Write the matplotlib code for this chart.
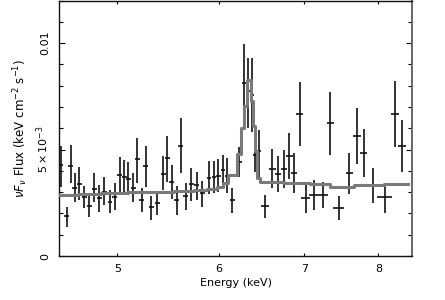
import matplotlib
matplotlib.use("Agg")
import matplotlib.pyplot as plt
from matplotlib.ticker import FixedLocator, NullLocator, MultipleLocator

# --- data: binned spectrum (flux values in units of 1e-3) ---
energy = [4.515, 4.562, 4.597, 4.631, 4.667, 4.709, 4.752, 4.794, 4.838, 4.884,
          4.932, 4.976, 5.021, 5.060, 5.100, 5.143, 5.183, 5.224, 5.261, 5.315,
          5.373, 5.431, 5.471, 5.513, 5.563, 5.603, 5.654, 5.712, 5.767, 5.826,
          5.896, 5.950, 5.996, 6.047, 6.094, 6.149, 6.227, 6.280, 6.325, 6.371,
          6.405, 6.451, 6.517, 6.608, 6.676, 6.748, 6.813, 6.871, 6.945, 7.016,
          7.122, 7.243, 7.339, 7.450, 7.594, 7.700, 7.792, 7.920, 8.093, 8.239,
          8.349]
energy_hw = [0.021] * 12 + [0.023] * 13 + [0.025] * 12 + [0.02] * 5 + \
            [0.047, 0.040, 0.040, 0.041, 0.041, 0.041, 0.042, 0.059, 0.056, 0.065,
             0.044, 0.076, 0.050, 0.051, 0.051, 0.066, 0.107, 0.059, 0.065]
flux = [4.279, 1.881, 4.232, 3.182, 3.386, 2.790, 2.351, 3.135, 2.712, 3.025,
        2.555, 2.759, 3.809, 3.730, 3.605, 3.182, 4.545, 2.633, 4.232, 2.288,
        2.508, 3.856, 4.592, 3.464, 2.633, 5.172, 2.821, 3.386, 3.339, 2.947,
        3.652, 3.730, 3.777, 4.044, 3.777, 2.633, 4.404, 8.119, 7.727, 7.571,
        4.749, 4.953, 2.351, 4.107, 3.856, 4.075, 4.702, 3.918, 6.677, 2.743,
        2.868, 2.868, 6.238, 2.273, 3.887, 5.658, 4.828, 3.307, 2.759, 6.661,
        5.188]
flux_hi = [5.188, 2.320, 5.219, 3.887, 4.169, 3.292, 2.868, 3.887, 3.339, 3.730,
           3.103, 3.417, 4.671, 4.514, 4.436, 3.887, 5.533, 3.182, 5.172, 2.821,
           3.025, 4.702, 5.643, 4.279, 3.292, 6.473, 3.417, 4.154, 3.966, 3.527,
           4.483, 4.483, 4.545, 4.749, 4.592, 3.182, 5.141, 9.969, 9.295, 9.295,
           5.846, 5.925, 2.868, 5.016, 4.702, 4.984, 5.768, 4.828, 8.150, 3.339,
           3.574, 3.495, 7.680, 2.821, 4.859, 6.944, 5.956, 4.122, 3.417, 8.197,
           6.395]
flux_lo = [3.260, 1.379, 3.417, 2.555, 2.633, 2.241, 1.818, 2.555, 2.085, 2.398,
           2.006, 2.163, 2.947, 2.947, 2.868, 2.555, 3.417, 2.085, 3.260, 1.693,
           1.928, 3.103, 3.495, 2.665, 1.928, 3.887, 2.163, 2.586, 2.633, 2.288,
           2.915, 2.978, 3.025, 3.292, 2.947, 2.006, 3.730, 6.473, 6.003, 5.846,
           3.966, 3.574, 1.771, 3.182, 3.025, 3.182, 3.605, 2.978, 5.172, 2.038,
           2.163, 2.241, 4.749, 1.693, 2.915, 4.326, 3.699, 2.476, 2.038, 5.110,
           3.966]

# --- model: step levels starting at each edge ---
model_e = [4.510, 4.653, 4.852, 5.091, 5.309, 5.536, 5.740, 5.879, 5.986, 6.051,
           6.102, 6.205, 6.242, 6.280, 6.310, 6.355, 6.378, 6.405, 6.432, 6.463,
           6.748, 7.079, 7.339, 7.653, 8.079, 8.435]
model_f = [2.884, 2.915, 2.947, 2.994, 3.025, 3.056, 3.103, 3.150, 3.229, 3.448,
           3.824, 4.796, 6.003, 7.053, 8.276, 7.257, 6.113, 4.953, 3.652, 3.495,
           3.417, 3.386, 3.260, 3.323, 3.370, 3.370]

scale = 1e-3
y = [v * scale for v in flux]
yerr = [[(v - lo) * scale for v, lo in zip(flux, flux_lo)],
        [(hi - v) * scale for v, hi in zip(flux, flux_hi)]]

fig = plt.figure(figsize=(4.45, 3.0), dpi=100)
ax = fig.add_axes([59 / 445, 44 / 300, 353 / 445, 255.5 / 300])

ax.errorbar(energy, y, xerr=energy_hw, yerr=yerr, fmt='none', ecolor='#111111',
            elinewidth=1.2, capsize=0, zorder=3)
ax.plot(model_e, [v * scale for v in model_f], drawstyle='steps-post',
        color='#7a7a7a', linewidth=2.2, zorder=4)

ax.set_xscale('log')
ax.set_xlim(4.5, 8.5)
ax.set_ylim(0, 0.012)

ax.xaxis.set_major_locator(FixedLocator([5, 6, 7, 8]))
ax.xaxis.set_minor_locator(NullLocator())
ax.set_xticklabels(['5', '6', '7', '8'])
ax.yaxis.set_major_locator(FixedLocator([0, 0.005, 0.01]))
ax.yaxis.set_minor_locator(MultipleLocator(0.001))
ax.set_yticklabels(['0', r'$5\times10^{-3}$', '0.01'])

ax.tick_params(axis='x', which='major', direction='in', length=2.5, width=0.8,
               top=True, labelsize=8, pad=5.5)
ax.tick_params(axis='y', which='major', direction='in', length=4, width=0.8,
               right=True, labelsize=8, pad=6, labelrotation=90)
ax.tick_params(axis='y', which='minor', direction='in', length=2.6, width=0.8,
               right=True)
for lab in ax.get_yticklabels():
    lab.set_verticalalignment('center')
    lab.set_horizontalalignment('right')

for side in ['left', 'bottom', 'top']:
    ax.spines[side].set_linewidth(1.0)
    ax.spines[side].set_color('#111111')
ax.spines['right'].set_linewidth(1.4)
ax.spines['right'].set_color('#666666')

ax.set_xlabel('Energy (keV)', fontsize=8, labelpad=3)
ax.set_ylabel(r'$\nu F_\nu$ Flux (keV cm$^{-2}$ s$^{-1}$)', fontsize=8.5, labelpad=3)

fig.savefig('out.png', dpi=100)
